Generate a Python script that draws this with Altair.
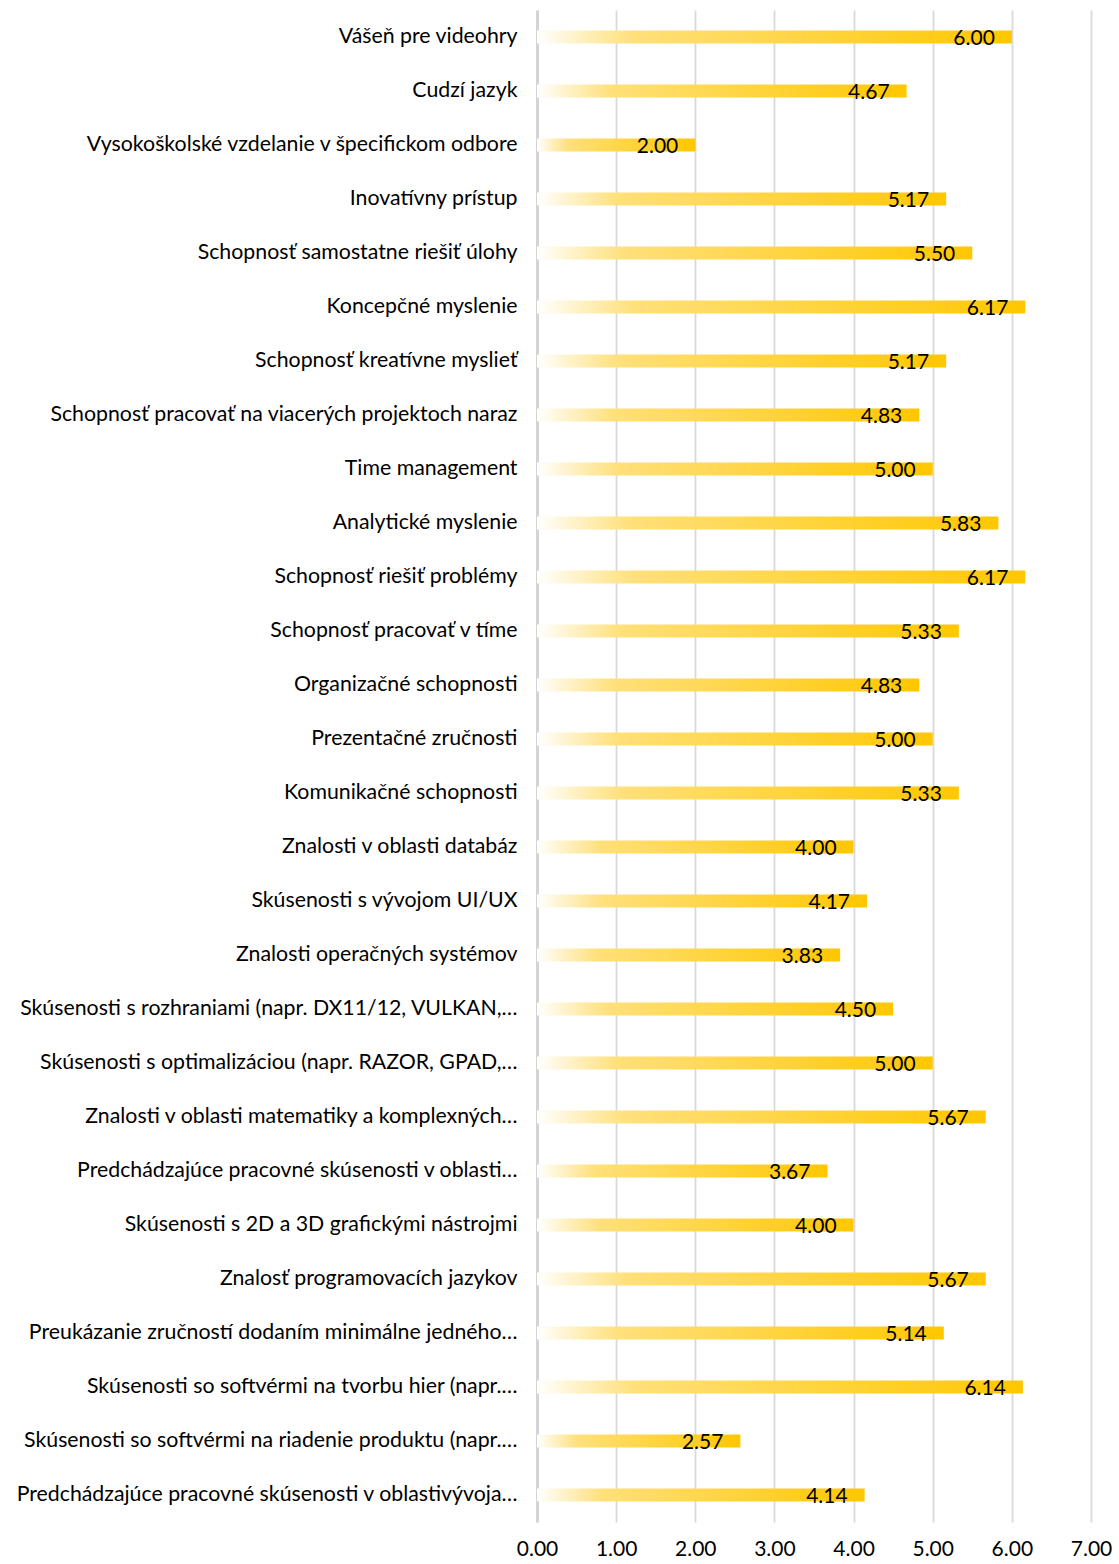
import altair as alt
import pandas as pd

# Skill ratings (average score, scale 0-7), listed top to bottom
skills = [
    "Vášeň pre videohry",
    "Cudzí jazyk",
    "Vysokoškolské vzdelanie v špecifickom odbore",
    "Inovatívny prístup",
    "Schopnosť samostatne riešiť úlohy",
    "Koncepčné myslenie",
    "Schopnosť kreatívne myslieť",
    "Schopnosť pracovať na viacerých projektoch naraz",
    "Time management",
    "Analytické myslenie",
    "Schopnosť riešiť problémy",
    "Schopnosť pracovať v tíme",
    "Organizačné schopnosti",
    "Prezentačné zručnosti",
    "Komunikačné schopnosti",
    "Znalosti v oblasti databáz",
    "Skúsenosti s vývojom UI/UX",
    "Znalosti operačných systémov",
    "Skúsenosti s rozhraniami (napr. DX11/12, VULKAN,…",
    "Skúsenosti s optimalizáciou (napr. RAZOR, GPAD,…",
    "Znalosti v oblasti matematiky a komplexných…",
    "Predchádzajúce pracovné skúsenosti v oblasti…",
    "Skúsenosti s 2D a 3D grafickými nástrojmi",
    "Znalosť programovacích jazykov",
    "Preukázanie zručností dodaním minimálne jedného…",
    "Skúsenosti so softvérmi na tvorbu hier (napr.…",
    "Skúsenosti so softvérmi na riadenie produktu (napr.…",
    "Predchádzajúce pracovné skúsenosti v oblastivývoja…",
]
scores = [
    6.00, 4.67, 2.00, 5.17, 5.50, 6.17, 5.17, 4.83, 5.00, 5.83,
    6.17, 5.33, 4.83, 5.00, 5.33, 4.00, 4.17, 3.83, 4.50, 5.00,
    5.67, 3.67, 4.00, 5.67, 5.14, 6.14, 2.57, 4.14,
]
x_ticks = [0, 1, 2, 3, 4, 5, 6, 7]

df = pd.DataFrame({"skill": skills, "score": scores})

FONT = "Lato"

gold_fade = alt.Gradient(
    gradient="linear",
    x1=0, x2=1, y1=0, y2=0,
    stops=[
        alt.GradientStop(offset=0, color="#FFFFFF"),
        alt.GradientStop(offset=0.2, color="#FFE07A"),
        alt.GradientStop(offset=1, color="#FFC700"),
    ],
)

y_enc = alt.Y(
    "skill:N",
    sort=skills,
    title=None,
    scale=alt.Scale(paddingInner=0, paddingOuter=0),
    axis=alt.Axis(
        labelFont=FONT,
        labelFontSize=21.3,
        labelColor="#000000",
        labelPadding=20,
        labelLimit=700,
        ticks=False,
        domain=True,
        domainColor="#d4d4d4",
        domainWidth=3,
        grid=False,
    ),
)

x_enc = alt.X(
    "score:Q",
    title=None,
    scale=alt.Scale(domain=[0, 7], nice=False),
    axis=alt.Axis(
        values=x_ticks,
        format=".2f",
        labelFont=FONT,
        labelFontSize=21,
        labelColor="#000000",
        labelPadding=16,
        labelFlush=False,
        ticks=False,
        domain=False,
        grid=True,
        gridColor="#d9d9d9",
        gridWidth=1.8,
    ),
)

bars = alt.Chart(df).mark_bar(size=13, color=gold_fade).encode(x=x_enc, y=y_enc)

labels = alt.Chart(df).mark_text(
    align="right",
    baseline="middle",
    dx=-17,
    dy=2,
    font=FONT,
    fontSize=21,
    color="#000000",
).encode(
    x="score:Q",
    y=alt.Y("skill:N", sort=skills),
    text=alt.Text("score:Q", format=".2f"),
)

chart = (
    alt.layer(bars, labels)
    .properties(
        width=554,
        height=1512,
        autosize=alt.AutoSizeParams(type="none"),
        padding={"left": 537, "top": 10, "right": 28, "bottom": 42},
        background="#ffffff",
    )
    .configure_view(strokeWidth=0, stroke="transparent")
)

chart.save("out.html", embed_options={"renderer": "svg", "actions": False})
